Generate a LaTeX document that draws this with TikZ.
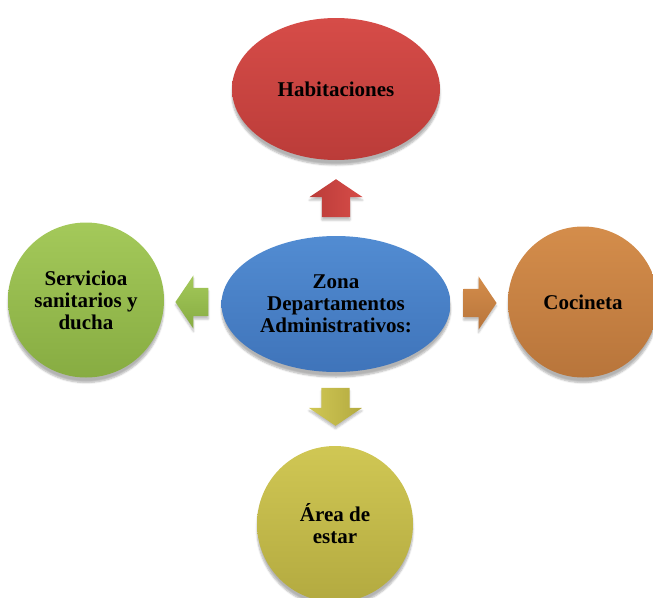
\documentclass[tikz,border=0pt]{standalone}
\usepackage{fontspec}
\setmainfont{Liberation Serif}
\usetikzlibrary{shapes.geometric,shapes.arrows,calc,shadows.blur}
\definecolor{redT}{HTML}{D64C48}\definecolor{redB}{HTML}{BB3C39}
\definecolor{bluT}{HTML}{528CD2}\definecolor{bluB}{HTML}{3F74BA}
\definecolor{grnT}{HTML}{A4C95A}\definecolor{grnB}{HTML}{87AC42}
\definecolor{orgT}{HTML}{D48D4B}\definecolor{orgB}{HTML}{B8753B}
\definecolor{yelT}{HTML}{D0C754}\definecolor{yelB}{HTML}{B3AA40}
\tikzset{
  bubble/.style={ellipse, inner sep=0pt, align=center,
    font=\fontsize{21}{22}\selectfont\bfseries,
    blur shadow={shadow xshift=0pt, shadow yshift=-5pt, shadow opacity=30, shadow blur steps=6}},
  blockarrow/.style={single arrow,
    single arrow head extend=12.5pt, single arrow tip angle=112,
    blur shadow={shadow xshift=0pt, shadow yshift=-3pt, shadow opacity=25, shadow blur steps=4}},
  harrow/.style={blockarrow, inner xsep=0pt, inner ysep=14pt},
  varrow/.style={blockarrow, inner ysep=0pt, inner xsep=14pt},
}
\begin{document}
\begin{tikzpicture}[x=1pt,y=-1pt]
\useasboundingbox (0,0) rectangle (653,597);
\clip (0,0) rectangle (653,597);
\node[bubble, minimum width=208pt, minimum height=142pt, top color=redT, bottom color=redB] (hab) at (336,89) {Habitaciones};
\node[bubble, minimum width=229pt, minimum height=136pt, top color=bluT, bottom color=bluB] (zona) at (336,304) {Zona\\Departamentos\\Administrativos:};
\node[bubble, minimum width=156pt, minimum height=155pt, top color=grnT, bottom color=grnB] (serv) at (86,300) {Servicioa\\sanitarios y\\ducha};
\node[bubble, minimum width=150pt, minimum height=151pt, top color=orgT, bottom color=orgB] (coc) at (583,302) {Cocineta};
\node[bubble, minimum width=156pt, minimum height=156pt, top color=yelT, bottom color=yelB] (area) at (335,524) {Área de\\estar};
\node[varrow, minimum height=38pt, shape border rotate=90, left color=redB, right color=redT, yshift=-5pt] (a1) at ($(hab.south)!0.5!(zona.north)$) {};
\node[harrow, minimum height=33pt, shape border rotate=180, top color=grnT, bottom color=grnB, xshift=4pt] (a2) at ($(serv.east)!0.5!(zona.west)$) {};
\node[harrow, minimum height=33pt, shape border rotate=0, top color=orgT, bottom color=orgB, xshift=-4pt] (a3) at ($(zona.east)!0.5!(coc.west)$) {};
\node[varrow, minimum height=38pt, shape border rotate=270, left color=yelT, right color=yelB, yshift=7pt] (a4) at ($(zona.south)!0.5!(area.north)$) {};
\end{tikzpicture}
\end{document}
